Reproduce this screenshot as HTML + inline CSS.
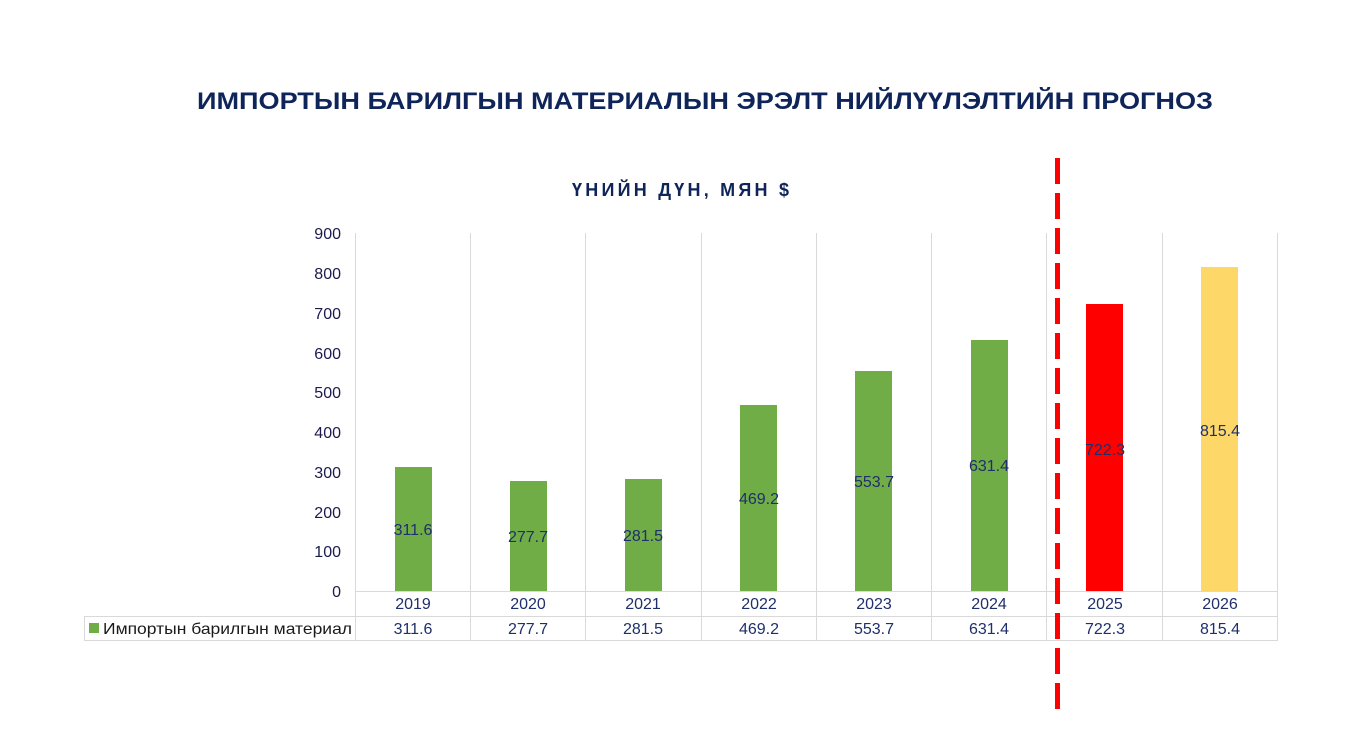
<!DOCTYPE html>
<html><head><meta charset="utf-8"><style>
body{margin:0;background:#fff;width:1372px;height:737px;overflow:hidden}
</style></head><body>
<svg width="1372" height="737" xmlns="http://www.w3.org/2000/svg" font-family="Liberation Sans, sans-serif">
<text x="197" y="109" font-size="24" font-weight="bold" fill="#0f2559" textLength="1016" lengthAdjust="spacingAndGlyphs">ИМПОРТЫН БАРИЛГЫН МАТЕРИАЛЫН ЭРЭЛТ НИЙЛҮҮЛЭЛТИЙН ПРОГНОЗ</text>
<text x="572" y="196" font-size="18" font-weight="bold" fill="#0f2559" textLength="217" lengthAdjust="spacing">ҮНИЙН ДҮН, МЯН $</text>
<g stroke="#d9d9d9" stroke-width="1">
<line x1="355.5" y1="233" x2="355.5" y2="640"/><line x1="470.5" y1="233" x2="470.5" y2="640"/><line x1="585.5" y1="233" x2="585.5" y2="640"/><line x1="701.5" y1="233" x2="701.5" y2="640"/><line x1="816.5" y1="233" x2="816.5" y2="640"/><line x1="931.5" y1="233" x2="931.5" y2="640"/><line x1="1046.5" y1="233" x2="1046.5" y2="640"/><line x1="1162.5" y1="233" x2="1162.5" y2="640"/><line x1="1277.5" y1="233" x2="1277.5" y2="640"/>
<line x1="355" y1="591.5" x2="1278" y2="591.5"/><line x1="84" y1="616.5" x2="1278" y2="616.5"/><line x1="84" y1="640.5" x2="1278" y2="640.5"/><line x1="84.5" y1="616" x2="84.5" y2="641"/>
</g>
<g font-size="16" fill="#1a1a4d" text-anchor="end">
<text x="341" y="597">0</text><text x="341" y="557">100</text><text x="341" y="518">200</text><text x="341" y="478">300</text><text x="341" y="438">400</text><text x="341" y="398">500</text><text x="341" y="359">600</text><text x="341" y="319">700</text><text x="341" y="279">800</text><text x="341" y="239">900</text>
</g>
<g fill="#70ad47">
<rect x="395" y="467" width="37" height="124"/>
<rect x="510" y="481" width="37" height="110"/>
<rect x="625" y="479" width="37" height="112"/>
<rect x="740" y="405" width="37" height="186"/>
<rect x="855" y="371" width="37" height="220"/>
<rect x="971" y="340" width="37" height="251"/>
</g>
<rect x="1086" y="304" width="37" height="287" fill="#ff0000"/>
<rect x="1201" y="267" width="37" height="324" fill="#fdd868"/>
<g font-size="16" fill="#1f2f6b" text-anchor="middle">
<text x="413" y="535">311.6</text><text x="528" y="542">277.7</text><text x="643" y="541">281.5</text><text x="759" y="504">469.2</text><text x="874" y="487">553.7</text><text x="989" y="471">631.4</text><text x="1105" y="455">722.3</text><text x="1220" y="436">815.4</text>
<text x="413" y="609">2019</text><text x="528" y="609">2020</text><text x="643" y="609">2021</text><text x="759" y="609">2022</text><text x="874" y="609">2023</text><text x="989" y="609">2024</text><text x="1105" y="609">2025</text><text x="1220" y="609">2026</text>
<text x="413" y="634">311.6</text><text x="528" y="634">277.7</text><text x="643" y="634">281.5</text><text x="759" y="634">469.2</text><text x="874" y="634">553.7</text><text x="989" y="634">631.4</text><text x="1105" y="634">722.3</text><text x="1220" y="634">815.4</text>
</g>
<rect x="89" y="623" width="10" height="10" fill="#70ad47"/>
<text x="103" y="634" font-size="16" fill="#1a1a1a" textLength="249" lengthAdjust="spacingAndGlyphs">Импортын барилгын материал</text>
<line x1="1057.5" y1="158" x2="1057.5" y2="716" stroke="#ff0000" stroke-width="5" stroke-dasharray="26 9"/>
</svg>
</body></html>
